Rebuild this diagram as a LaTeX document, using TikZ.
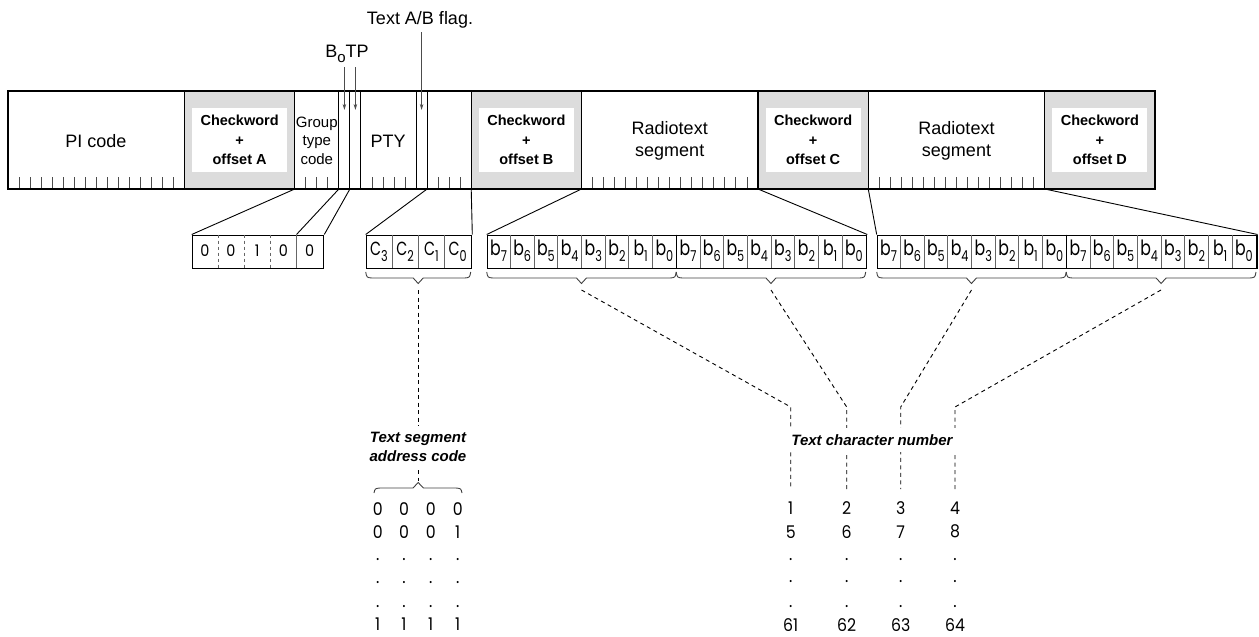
\documentclass[tikz,border=0pt]{standalone}
\usepackage{fontspec}
\setmainfont{Liberation Sans}
\newfontfamily\geo{Poppins}[FakeStretch=0.75]
\newfontfamily\geod{Poppins}[FakeStretch=0.9]
\usetikzlibrary{arrows.meta}
\definecolor{cwgray}{HTML}{DCDCDC}
\def\B{11.029}
\newcommand\bsub[3]{{\geo\fontsize{#3}{#3}\selectfont #1\raisebox{-6pt}{\fontsize{15}{15}\selectfont #2}}}
\newcommand\dbrace[2]{%
  \draw[brc] (#1,272) .. controls (#1+1,277.5) .. (#1+6,278) -- ({(#1+#2)/2-5},278) -- ({(#1+#2)/2},283.5) -- ({(#1+#2)/2+5},278) -- (#2-6,278) .. controls (#2-1,277.5) .. (#2,272);}
\begin{document}
\begin{tikzpicture}[x=1pt,y=-1pt,
  frame/.style={line width=1.8pt},
  cwdiv/.style={line width=1.4pt},
  thdiv/.style={line width=1.1pt},
  tick/.style={line width=0.9pt, draw=black!70},
  lbl/.style={font=\fontsize{18}{22}\selectfont, align=center, inner sep=0pt},
  cwin/.style={fill=white, minimum width=95pt, minimum height=64pt, inner sep=0pt, font=\bfseries\fontsize{14.5}{19.5}\selectfont, align=center},
  bbox/.style={draw, line width=1.6pt, minimum height=33pt, inner sep=0pt, anchor=north west},
  cell/.style={line width=0.8pt, draw=black!60},
  bytediv/.style={line width=1.4pt},
  geotxt/.style={font=\geod\fontsize{17.5}{17.5}\selectfont, inner sep=0pt},
  btxt/.style={inner sep=0pt, anchor=base},
  conn/.style={line width=0.9pt},
  dsh/.style={line width=0.9pt, dash pattern=on 4pt off 3.5pt},
  brc/.style={line width=0.9pt, draw=black!75},
  arr/.style={line width=1.1pt, draw=black!70, -{Stealth[length=6pt,width=3.5pt]}},
  ital/.style={font=\bfseries\itshape\fontsize{15}{19}\selectfont, align=center, fill=white}
]
\useasboundingbox (0,0) rectangle (1259,637);

% ---------- main bar ----------
\foreach \a/\n in {16/A,42/B,68/C,94/D} {
  \fill[cwgray] ({8+\a*\B},91) rectangle ({8+(\a+10)*\B},189);
  \node[cwin] (cw\n) at ({8+(\a+5)*\B},140) {Checkword\\+\\offset \n};
}
\foreach \i in {1,...,15} \draw[tick] ({8+\i*\B},177) -- ({8+\i*\B},189);
\foreach \i in {27,28,29,33,34,35,36,39,40,41} \draw[tick] ({8+\i*\B},177) -- ({8+\i*\B},189);
\foreach \i in {53,...,67} \draw[tick] ({8+\i*\B},177) -- ({8+\i*\B},189);
\foreach \i in {79,...,93} \draw[tick] ({8+\i*\B},177) -- ({8+\i*\B},189);
\foreach \i in {30,31,32,37,38} \draw[thdiv] ({8+\i*\B},91) -- ({8+\i*\B},189);
\foreach \i in {16,26,42,52,68,78,94} \draw[cwdiv] ({8+\i*\B},91) -- ({8+\i*\B},189);
\draw[frame] (8,91) rectangle (1155,189);
\foreach \i in {26,30,31,38,42,52,68,78,94} \coordinate (k\i) at ({8+\i*\B},189);

\node[lbl] (pi) at (96,141) {PI code};
\node[lbl, font=\fontsize{15}{18.5}\selectfont] (gtc) at (316.8,140.5) {Group\\type\\code};
\node[lbl] (pty) at (388,141) {PTY};
\node[lbl] (rt1) at ({8+60*\B},141) {Radiotext\\segment};
\node[lbl] (rt2) at ({8+86*\B},141) {Radiotext\\segment};

% ---------- top labels and arrows ----------
\node[lbl, anchor=base] (abflag) at (420,24) {Text A/B flag.};
\node[lbl, anchor=base] (botp) at (347,57) {B\raisebox{-5pt}{\fontsize{15}{15}\selectfont o}TP};
\coordinate (b0s) at (344.4,67); \coordinate (b0e) at (344.4,110);
\coordinate (tps) at (355.4,67); \coordinate (tpe) at (355.4,110);
\coordinate (tas) at (421.6,32); \coordinate (tae) at (421.6,110);
\draw[arr] (b0s) -- (b0e);
\draw[arr] (tps) -- (tpe);
\draw[arr] (tas) -- (tae);

% ---------- group type code box ----------
\node[bbox, minimum width=131pt] (gbox) at (191.7,234.5) {};
\foreach \k in {1,2,3} \draw[cell, dashed] ({191.7+\k*26.2},234.5) -- ++(0,33);
\draw[cell] (296.5,234.5) -- ++(0,33);
\coordinate (g4) at (296.5,234.5);
\foreach \k/\v in {0/0,1/0,2/1,3/0,4/0} \node[geotxt, anchor=base, font=\geod\fontsize{16}{16}\selectfont] at ({191.7+(\k+0.5)*26.2},256.5) {\v};

% ---------- C box ----------
\node[bbox, minimum width=105pt] (cbox) at (365.7,234.5) {};
\foreach \k in {1,2,3} \draw[cell] ({365.7+\k*26.25},234.5) -- ++(0,33);
\foreach \k/\v in {0/3,1/2,2/1,3/0} \node[btxt] at ({365.7+(\k+0.5)*26.25},255.5) {\bsub{C}{\v}{19}};

% ---------- b boxes ----------
\node[bbox, minimum width=379pt] (bb1) at (486.7,234.5) {};
\node[bbox, minimum width=379.3pt] (bb2) at (876.7,234.5) {};
\foreach \x in {486.7,876.7} {
  \foreach \k in {1,...,15} \draw[cell] ({\x+\k*23.69},234.5) -- ++(0,33);
  \draw[bytediv] ({\x+8*23.69},234.5) -- ++(0,33);
  \foreach \k in {0,...,15} {
    \pgfmathtruncatemacro\bit{7-mod(\k,8)}
    \node[btxt] at ({\x+(\k+0.5)*23.69},255.5) {\bsub{b}{\bit}{21}};
  }
}

% ---------- connectors from bar ----------
\draw[conn] (k26) -- (gbox.north west);
\draw[conn] (k30) -- (g4);
\draw[conn] (k31) -- (gbox.north east);
\draw[conn] (k38) -- (cbox.north west);
\draw[conn] (k42) -- (cbox.north east);
\draw[conn] (k52) -- (bb1.north west);
\draw[conn] (k68) -- (bb1.north east);
\draw[conn] (k78) -- (bb2.north west);
\draw[conn] (k94) -- (bb2.north east);

% ---------- braces ----------
\dbrace{365.7}{470.7}
\dbrace{486.7}{676.2}
\dbrace{676.2}{865.7}
\dbrace{876.7}{1066.2}
\dbrace{1066.2}{1256}

% ---------- segment address code ----------
\coordinate (tC) at (418.2,290);
\coordinate (lbA) at (418.2,481);
\draw[dsh] (tC) -- (lbA);
\node[ital, inner xsep=2pt, inner ysep=6pt] (tsac) at (418,447) {Text segment\\address code};
\draw[brc] (374,493) .. controls (375,488.5) .. (380,488) -- (413,488) -- (418.2,482.5) -- (423.4,488) -- (456,488) .. controls (461,488.5) .. (462,493);
\foreach \c/\x in {1/377.7,2/404,3/430.7,4/457.7} {
  \node[geotxt] (s\c a) at (\x,509) {0};
  \node[geotxt] (s\c d1) at (\x,559.3) {.};
  \node[geotxt] (s\c d2) at (\x,582.7) {.};
  \node[geotxt] (s\c d3) at (\x,606.7) {.};
  \node[geotxt] (s\c z) at (\x,624) {1};
}
\node[geotxt] (s1b) at (377.7,531.7) {0};
\node[geotxt] (s2b) at (404,531.7) {0};
\node[geotxt] (s3b) at (430.7,531.7) {0};
\node[geotxt] (s4b) at (457.7,531.7) {1};

% ---------- character numbers ----------
\coordinate (t1) at (581.5,290); \coordinate (t2) at (771,290);
\coordinate (t3) at (971.5,290); \coordinate (t4) at (1161,290);
\foreach \c/\x in {1/790.7,2/846.7,3/900.7,4/955} {
  \coordinate (c\c a) at (\x,407);
  \coordinate (c\c b) at (\x,489);
}
\foreach \c in {1,2,3,4} \draw[dsh] (t\c) -- (c\c a) -- (c\c b);
\node[ital, inner xsep=3pt, inner ysep=6.5pt] (tcn) at (872,440) {Text character number};
\foreach \c/\x/\p/\q/\r in {1/790.7/1/5/61,2/846.7/2/6/62,3/900.7/3/7/63,4/955/4/8/64} {
  \node[geotxt] (n\c a) at (\x,508.3) {\p};
  \node[geotxt] (n\c b) at (\x,531.7) {\q};
  \node[geotxt] (n\c d1) at (\x,560) {.};
  \node[geotxt] (n\c d2) at (\x,582) {.};
  \node[geotxt] (n\c d3) at (\x,606.7) {.};
  \node[geotxt] (n\c z) at (\x,625) {\r};
}
\end{tikzpicture}
\end{document}
